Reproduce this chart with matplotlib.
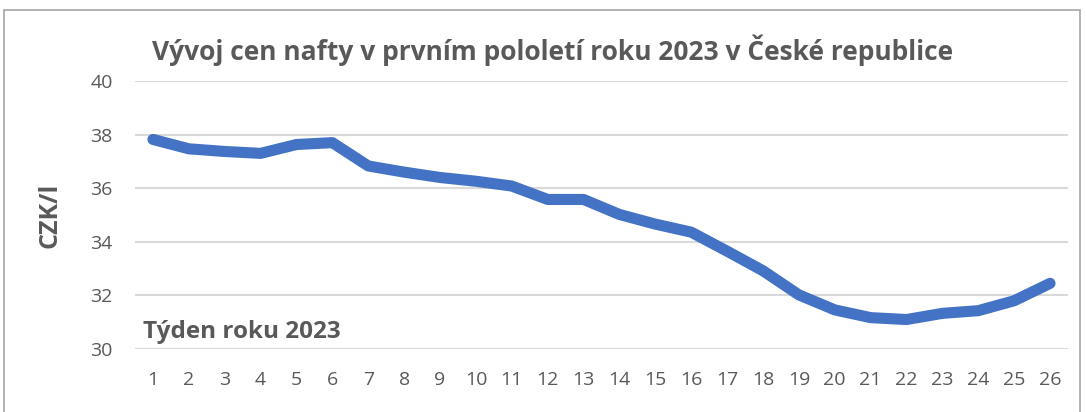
import matplotlib
matplotlib.use('Agg')
import matplotlib.pyplot as plt
from matplotlib.patches import Rectangle

# týdny a ceny nafty (CZK/l)
weeks = list(range(1, 27))
prices = [37.82, 37.47, 37.37, 37.30, 37.63, 37.70, 36.83, 36.60, 36.40, 36.26, 36.08, 35.58,
          35.58, 35.02, 34.66, 34.36, 33.65, 32.92, 32.02, 31.46, 31.17, 31.10, 31.33, 31.43,
          31.80, 32.45]
yticks = [30, 32, 34, 36, 38, 40]

plt.rcParams['font.family'] = ['Open Sans', 'DejaVu Sans']
grey = '#595959'

fig = plt.figure(figsize=(10.86, 4.12), dpi=100)
# rámeček grafu
fig.patches.append(Rectangle((4 / 1086, -0.1), 1076 / 1086, 1.1 - 10 / 412, transform=fig.transFigure,
                             fill=False, edgecolor='#a6a6a6', linewidth=1.2))

ax = fig.add_axes([135 / 1086, 1 - 349 / 412, 933 / 1086, 268 / 412])
ax.plot(weeks, prices, color='#4472C4', linewidth=8, solid_capstyle='round', solid_joinstyle='round')

ax.set_xlim(0.5, 26.5)
ax.set_ylim(30, 40)
ax.set_yticks(yticks)
ax.set_xticks(weeks)
ax.grid(axis='y', color='#d9d9d9', linewidth=1.5)
ax.set_axisbelow(True)
for s in ax.spines.values():
    s.set_visible(False)
ax.tick_params(length=0, labelsize=14, labelcolor=grey)
ax.tick_params(axis='x', pad=16)
ax.tick_params(axis='y', pad=16)

ax.set_ylabel('CZK/l', fontsize=18, fontweight='bold', color=grey, labelpad=20)
ax.text(0.73, 30.2, 'Týden roku 2023', fontsize=17.5, fontweight='bold', color=grey, ha='left', va='bottom')
fig.text(553 / 1086, 1 - 50 / 412, 'Vývoj cen nafty v prvním pololetí roku 2023 v České republice',
         fontsize=19, fontweight='bold', color=grey, ha='center', va='center')

plt.savefig('out.png', dpi=100)
